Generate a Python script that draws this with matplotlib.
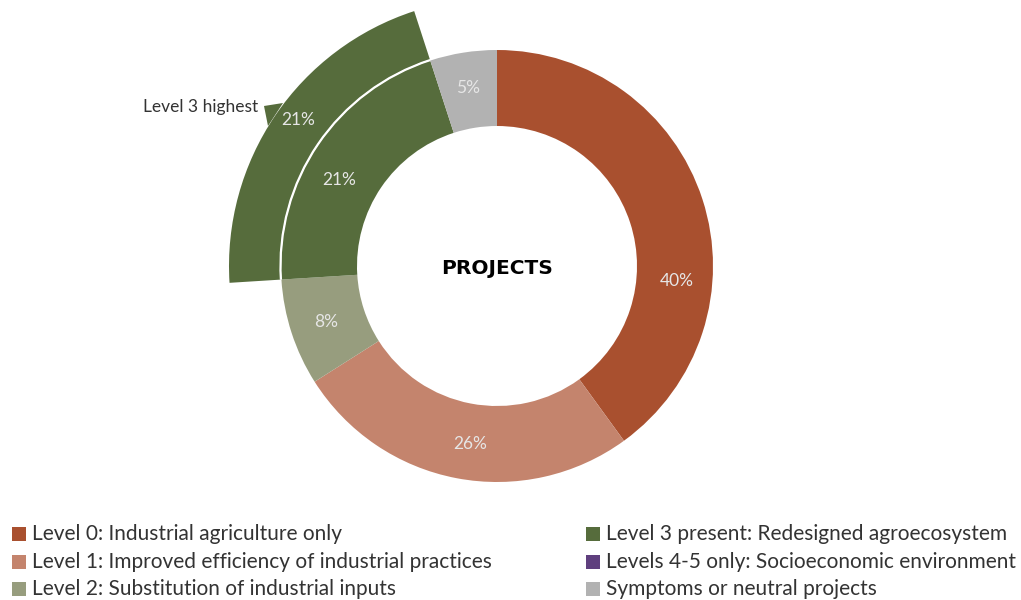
import matplotlib
matplotlib.use("Agg")
import matplotlib.pyplot as plt
from matplotlib.patches import Rectangle, Arc, Polygon
import numpy as np

# ---- data ----
categories = [
    "Level 0: Industrial agriculture only",
    "Level 1: Improved efficiency of industrial practices",
    "Level 2: Substitution of industrial inputs",
    "Level 3 present: Redesigned agroecosystem",
    "Levels 4-5 only: Socioeconomic environment",
    "Symptoms or neutral projects",
]
shares = [40, 26, 8, 21, 0, 5]
highest_share = [0, 0, 0, 21, 0, 0]   # outer band: Level 3 highest
colors = ["#A9502F", "#C4846D", "#979D7E", "#566C3C", "#5F3F7E", "#B2B2B2"]
center_title = "PROJECTS"
outer_label = "Level 3 highest"

# ---- layout ----
W, H = 1021, 600
cx, cy = 497, 600 - 266
R_ring, w_ring = 216, 76
R_out, w_out = 268, 51
label_angles = [-4.7, 261.5, 198, 151.5, None, 99.2]   # display angle (deg) of each % label
label_r = 180

fig = plt.figure(figsize=(W / 100, H / 100), dpi=100)
ax = fig.add_axes([0, 0, 1, 1])

ax.pie(shares, colors=colors, startangle=90, counterclock=False,
       radius=R_ring, center=(cx, cy), wedgeprops=dict(width=w_ring, linewidth=0))
ax.pie([highest_share[3], sum(shares) - highest_share[3]],
       colors=[colors[3], "none"], startangle=90 + 360 * shares[5] / 100,
       counterclock=True, radius=R_out, center=(cx, cy),
       wedgeprops=dict(width=w_out, linewidth=0))

ax.set_xlim(0, W)
ax.set_ylim(0, H)
ax.set_aspect("equal")
ax.axis("off")

# white separator arc between outer band and ring
a0 = 90 + 360 * shares[5] / 100
a1 = a0 + 360 * shares[3] / 100
ax.add_patch(Arc((cx, cy), 2 * R_ring + 1, 2 * R_ring + 1, theta1=a0, theta2=a1,
                 color="white", lw=1.6, zorder=5))

# percentage labels
pct_font = dict(family="Lato", fontsize=12.5, color="#E6E6E6",
                ha="center", va="center")
for s, ang in zip(shares, label_angles):
    if ang is None or s == 0:
        continue
    t = np.deg2rad(ang)
    ax.text(cx + label_r * np.cos(t), cy + label_r * np.sin(t), f"{s}%", **pct_font)
mid = np.deg2rad(143.7)
ax.text(cx + 247 * np.cos(mid), cy + 247 * np.sin(mid), f"{highest_share[3]}%", **pct_font)

# pointer + label for outer band
ax.add_patch(Polygon([[264, H - 106], [283, H - 103], [268, H - 126]],
                     closed=True, color=colors[3], lw=0))
ax.text(258, H - 107, outer_label, family="Lato", fontsize=12.5,
        color="#333333", ha="right", va="center")

ax.text(cx, cy - 2, center_title, family="DejaVu Sans", fontweight="bold", fontsize=14.5,
        color="black", ha="center", va="center")

# legend
col_x = [12, 586]
row_y = [534, 562, 589]
for i, (lab, c) in enumerate(zip(categories, colors)):
    x = col_x[i // 3]
    y = H - row_y[i % 3]
    ax.add_patch(Rectangle((x, y - 7), 14, 14, color=c, lw=0))
    ax.text(x + 20, y, lab, family="Lato", fontsize=15,
            color="#333333", ha="left", va="center")

fig.savefig("out.png", dpi=100)
